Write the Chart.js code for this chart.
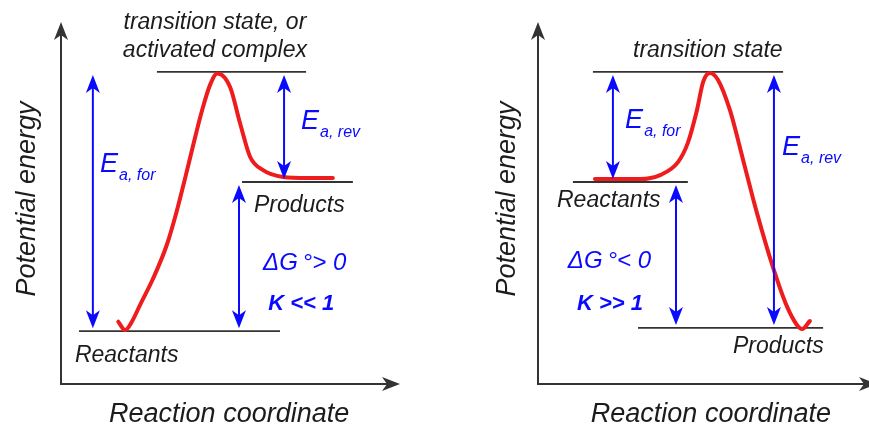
<!DOCTYPE html>
<html><head><meta charset="utf-8">
<script src="https://cdn.jsdelivr.net/npm/chart.js@4"></script>
<style>
html,body{margin:0;padding:0;background:#fff;overflow:hidden;width:869px;height:427px;}
#wrap{position:relative;width:869px;height:427px;overflow:hidden;background:#fff;}
#c1{position:absolute;left:0;top:0;}
#c2{position:absolute;left:440px;top:0;}
</style></head><body>
<div id="wrap"><canvas id="c1" width="440" height="427"></canvas><canvas id="c2" width="437" height="427"></canvas></div>
<script>
// ---------- data (reaction coordinate 0..100, potential energy 0..100) ----------
const coordLeft  = [16.9,18.9,20.9,23.3,27.2,31.2,34.1,36.6,39.0,41.5,44.0,46.1,49.9,52.8,55.8,59.6,65.5,72.6,80.2];
const energyLeft = [17.2,14.9,17.2,21.8,29.2,38.4,47.6,56.8,66.0,75.2,82.7,85.8,82.0,72.1,62.7,59.1,57.2,56.9,56.9];
const coordRight  = [16.8,30.1,36.0,41.3,44.2,46.9,48.7,50.7,53.1,56.6,60.5,64.6,69.3,73.5,76.4,77.9,80.2];
const energyRight = [56.6,56.6,57.7,61.3,66.6,75.7,83.4,85.9,84.0,75.7,61.9,47.2,32.3,21.3,16.3,15.2,17.4];

// energy levels: [reactants, products, transition state]
const levelEnergyLeft  = [14.6, 55.8, 86.2];
const levelEnergyRight = [55.8, 15.5, 86.2];
const levelStartLeft   = [5.3, 53.4, 28.3];
const levelEndLeft     = [64.6, 86.1, 72.3];
const levelStartRight  = [10.3, 29.5, 16.2];
const levelEndRight    = [44.2, 84.1, 72.3];

// double arrows: coordinate, from level index, to level index  (Ea,for ; Ea,rev ; ΔG°)
const arrowCoordLeft  = [9.4, 65.8, 52.5];
const arrowFromLeft   = [0, 1, 0];
const arrowToLeft     = [2, 2, 1];
const arrowCoordRight = [22.1, 69.6, 40.7];
const arrowFromRight  = [0, 1, 1];
const arrowToRight    = [2, 2, 0];

// text
const yTitle = 'Potential energy';
const xTitle = 'Reaction coordinate';
const tsLabelLeft = ['transition state, or', 'activated complex'];
const tsLabelRight = ['transition state'];
const dgLabelLeft = ['\u0394G\u2009\u00B0> 0', 'K << 1'];
const dgLabelRight = ['\u0394G\u2009\u00B0< 0', 'K >> 1'];

// ---------- styling / layout ----------
const FONT = '"Liberation Sans", Arial, Helvetica, sans-serif';
const BLUE = '#0a0aff', RED = '#ee1c1c', INK = '#1c1c1c', AXIS = '#333333';

function makePanel(canvasId, pad, curveX, curveY, lvE, lvS, lvE2, arX, arF, arT, texts){
  const datasets = [{
    data: curveX.map((x,i)=>({x, y: curveY[i]})),
    borderColor: RED, borderWidth: 4, pointRadius: 0, tension: 0.4,
    cubicInterpolationMode: 'monotone', borderCapStyle: 'round', borderJoinStyle: 'round', clip: false
  }];
  lvE.forEach((e,i)=>{
    datasets.push({data:[{x:lvS[i],y:e},{x:lvE2[i],y:e}], borderColor: AXIS, borderWidth: 1.8,
      pointRadius: 0, tension: 0, clip: false});
  });
  const plugin = {
    id: 'decor',
    afterDatasetsDraw(chart){
      const ctx = chart.ctx, xs = chart.scales.x, ys = chart.scales.y;
      const x0 = xs.getPixelForValue(0), y0 = ys.getPixelForValue(0);
      const xT = xs.getPixelForValue(100), yT = ys.getPixelForValue(100);
      ctx.save();
      ctx.strokeStyle = AXIS; ctx.fillStyle = AXIS; ctx.lineWidth = 2;
      ctx.beginPath(); ctx.moveTo(x0, yT + 12); ctx.lineTo(x0, y0); ctx.lineTo(xT - 12, y0); ctx.stroke();
      head(ctx, x0, yT, 0, -1, 18, 7);
      head(ctx, xT, y0, 1, 0, 18, 7);
      ctx.strokeStyle = BLUE; ctx.fillStyle = BLUE; ctx.lineWidth = 2;
      arX.forEach((c,i)=>{
        const px = xs.getPixelForValue(c);
        const ya = ys.getPixelForValue(lvE[arF[i]]), yb = ys.getPixelForValue(lvE[arT[i]]);
        const top = Math.min(ya,yb) + 3, bot = Math.max(ya,yb) - 3;
        ctx.beginPath(); ctx.moveTo(px, top + 10); ctx.lineTo(px, bot - 10); ctx.stroke();
        head(ctx, px, top, 0, -1, 18, 7);
        head(ctx, px, bot, 0, 1, 18, 7);
      });
      ctx.restore();
    },
    afterDraw(chart){
      const ctx = chart.ctx, xs = chart.scales.x, ys = chart.scales.y;
      ctx.save();
      ctx.textBaseline = 'alphabetic';
      texts.forEach(t=>{
        const px = xs.getPixelForValue(t.x), py = ys.getPixelForValue(t.y);
        ctx.fillStyle = t.color || INK;
        ctx.font = t.font;
        ctx.textAlign = t.align || 'left';
        if (t.rotate){
          ctx.save(); ctx.translate(px, py); ctx.rotate(-Math.PI/2);
          ctx.textAlign = 'center'; ctx.fillText(t.text, 0, 0); ctx.restore();
        } else if (t.sub){
          ctx.fillText(t.text, px, py);
          const w = ctx.measureText(t.text).width;
          ctx.font = t.subFont;
          ctx.fillText(t.sub, px + w + 1, py + 8);
        } else {
          ctx.fillText(t.text, px, py);
        }
      });
      ctx.restore();
    }
  };
  return new Chart(document.getElementById(canvasId), {
    type: 'line',
    data: { datasets },
    options: {
      responsive: false, animation: false, events: [],
      layout: { padding: pad },
      plugins: { legend: { display: false }, tooltip: { enabled: false } },
      scales: {
        x: { type: 'linear', min: 0, max: 100, display: false },
        y: { type: 'linear', min: 0, max: 100, display: false }
      }
    },
    plugins: [plugin]
  });
}

function head(ctx, x, y, dx, dy, len, half){
  const bx = x - dx*len, by = y - dy*len;
  const nx = -dy, ny = dx;
  const nx2 = x - dx*len*0.72, ny2 = y - dy*len*0.72;
  ctx.beginPath();
  ctx.moveTo(x, y);
  ctx.lineTo(bx + nx*half, by + ny*half);
  ctx.lineTo(nx2, ny2);
  ctx.lineTo(bx - nx*half, by - ny*half);
  ctx.closePath(); ctx.fill();
}

const F = (s, w) => (w||'italic') + ' ' + s + 'px ' + FONT;

const textsLeft = [
  {text: tsLabelLeft[0], x: 45.4, y: 98.1, align: 'center', font: F(23)},
  {text: tsLabelLeft[1], x: 45.4, y: 90.3, align: 'center', font: F(23)},
  {text: 'E', sub: 'a, for', x: 11.5, y: 58.6, font: F(27), subFont: F(16), color: BLUE},
  {text: 'E', sub: 'a, rev', x: 70.8, y: 70.4, font: F(27), subFont: F(16), color: BLUE},
  {text: 'Products', x: 56.9, y: 47.5, font: F(23)},
  {text: 'Reactants', x: 4.1, y: 6.1, font: F(23)},
  {text: dgLabelLeft[0], x: 59.6, y: 31.5, font: F(24), color: BLUE},
  {text: dgLabelLeft[1], x: 61.1, y: 20.4, font: F(22, 'italic bold'), color: BLUE},
  {text: yTitle, x: -7.7, y: 51.1, rotate: true, font: F(27)},
  {text: xTitle, x: 49.6, y: -10.5, align: 'center', font: F(27)}
];
const textsRight = [
  {text: tsLabelRight[0], x: 50.1, y: 90.3, align: 'center', font: F(23)},
  {text: 'E', sub: 'a, for', x: 25.7, y: 70.7, font: F(27), subFont: F(16), color: BLUE},
  {text: 'E', sub: 'a, rev', x: 72.0, y: 63.3, font: F(27), subFont: F(16), color: BLUE},
  {text: 'Reactants', x: 5.6, y: 48.9, font: F(23)},
  {text: 'Products', x: 57.5, y: 8.6, font: F(23)},
  {text: dgLabelRight[0], x: 8.8, y: 32.0, font: F(24), color: BLUE},
  {text: dgLabelRight[1], x: 11.5, y: 20.4, font: F(22, 'italic bold'), color: BLUE},
  {text: yTitle, x: -6.8, y: 51.1, rotate: true, font: F(27)},
  {text: xTitle, x: 51.0, y: -10.5, align: 'center', font: F(27)}
];

makePanel('c1', {left: 61, right: 40, top: 22, bottom: 43},
  coordLeft, energyLeft, levelEnergyLeft, levelStartLeft, levelEndLeft,
  arrowCoordLeft, arrowFromLeft, arrowToLeft, textsLeft);
makePanel('c2', {left: 98, right: 0, top: 22, bottom: 43},
  coordRight, energyRight, levelEnergyRight, levelStartRight, levelEndRight,
  arrowCoordRight, arrowFromRight, arrowToRight, textsRight);
</script>
</body></html>
